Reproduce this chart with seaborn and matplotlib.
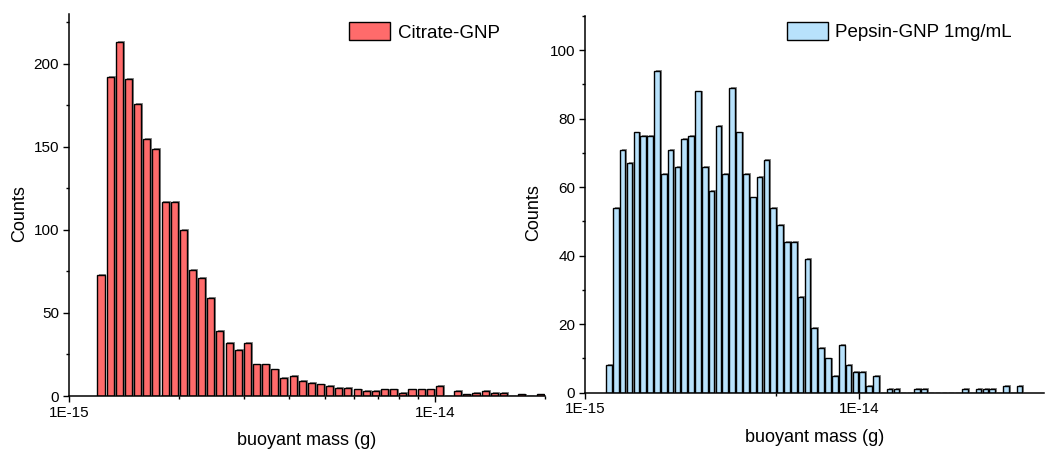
import numpy as np
import pandas as pd
import seaborn as sns
import matplotlib.pyplot as plt
from matplotlib import patheffects
from matplotlib.ticker import NullFormatter

# Histograms of buoyant mass, binned at 40 bins per decade of mass (g).
BINS_PER_DECADE = 40
LOG_MASS_START = -15          # log10 of 1E-15 g

citrate_first_bin = 3
citrate_counts = [73, 192, 213, 191, 176, 155, 149, 117, 117, 100,
                  76, 71, 59, 39, 32, 28, 32, 19, 19, 16,
                  11, 12, 9, 8, 7, 6, 5, 5, 4, 3,
                  3, 4, 4, 2, 4, 4, 4, 6, 0, 3,
                  1, 2, 3, 2, 2, 0, 1, 0, 1]

pepsin_first_bin = 3
pepsin_counts = [8, 54, 71, 67, 76, 75, 75, 94, 64, 71,
                 66, 74, 75, 88, 66, 59, 78, 64, 89, 76,
                 64, 57, 63, 68, 54, 49, 44, 44, 28, 39,
                 19, 13, 10, 5, 14, 8, 6, 6, 2, 5,
                 0, 1, 1, 0, 0, 1, 1, 0, 0, 0,
                 0, 0, 1, 0, 1, 1, 1, 0, 2, 0, 2]

citrate_label = "Citrate-GNP"
pepsin_label = "Pepsin-GNP 1mg/mL"
xlabel = "buoyant mass (g)"
ylabel = "Counts"
major_xticks = [1e-15, 1e-14]
major_xticklabels = ["1E-15", "1E-14"]

citrate_color = "#FF6B6B"
pepsin_color = "#B8E2FC"


def binned_frame(first_bin, counts):
    idx = np.arange(first_bin, first_bin + len(counts))
    log_edges = LOG_MASS_START + np.arange(first_bin, first_bin + len(counts) + 1) / BINS_PER_DECADE
    centers = 10 ** (LOG_MASS_START + (idx + 0.5) / BINS_PER_DECADE)
    return pd.DataFrame({"mass": centers, "count": counts}), log_edges.tolist()


sns.set_theme(style="ticks")
plt.rcParams["font.family"] = ["Liberation Sans", "DejaVu Sans"]
for key in ("text.color", "axes.labelcolor", "xtick.color", "ytick.color",
            "xtick.labelcolor", "ytick.labelcolor"):
    plt.rcParams[key] = "black"

fig = plt.figure(figsize=(10.45, 4.53), dpi=100)
ax1 = fig.add_axes([0.0660, 0.1258, 0.4555, 0.8433])
ax2 = fig.add_axes([0.5598, 0.1331, 0.4393, 0.8316])

shadow = [patheffects.SimplePatchShadow(offset=(1.4, 0.6), shadow_rgbFace="0.4", alpha=0.75),
          patheffects.Normal()]


def draw_panel(ax, first_bin, counts, color, label, shrink, xlim, ylim,
               ymajor, yminor, xminor, legend_anchor, label_x):
    df, edges = binned_frame(first_bin, counts)
    sns.histplot(data=df, x="mass", weights="count", bins=edges, log_scale=True,
                 shrink=shrink, color=color, alpha=1.0, edgecolor="black",
                 linewidth=1.0, label=label, ax=ax)
    for p in ax.patches:
        p.set_path_effects(shadow)
    ax.set_xticks(major_xticks, labels=major_xticklabels)
    ax.set_xticks([t for t in xminor if xlim[0] < t <= xlim[1]], minor=True)
    ax.xaxis.set_minor_formatter(NullFormatter())
    ax.set_yticks(ymajor)
    ax.set_yticks(yminor, minor=True)
    ax.set_xlim(*xlim)
    ax.set_ylim(*ylim)
    ax.set_xlabel(xlabel, fontsize=13, labelpad=9)
    ax.set_ylabel(ylabel, fontsize=13)
    ax.yaxis.set_label_coords(label_x, 0.478)
    for side in ("top", "right"):
        ax.spines[side].set_visible(False)
    for side in ("left", "bottom"):
        ax.spines[side].set_linewidth(1.1)
        ax.spines[side].set_color("black")
    ax.tick_params(axis="both", which="major", direction="out", length=4,
                   width=1.0, labelsize=11, color="black", pad=3)
    ax.tick_params(axis="both", which="minor", direction="out", length=2.5,
                   width=1.0, color="black")
    leg = ax.legend(loc="upper left", bbox_to_anchor=legend_anchor, frameon=False,
                    fontsize=13.5, handlelength=2.2, handleheight=1.1,
                    handletextpad=0.4, borderpad=0, borderaxespad=0)
    for h in leg.legend_handles:
        h.set_path_effects([])
        h.set_linewidth(1.0)


draw_panel(ax1, citrate_first_bin, citrate_counts, citrate_color, citrate_label,
           shrink=0.77, xlim=(1e-15, 2e-14), ylim=(0, 230),
           ymajor=[0, 50, 100, 150, 200], yminor=np.arange(25, 230, 50),
           xminor=[m * 10.0 ** e for e in (-15, -14) for m in range(2, 10)],
           legend_anchor=(0.588, 0.978), label_x=-0.086)

draw_panel(ax2, pepsin_first_bin, pepsin_counts, pepsin_color, pepsin_label,
           shrink=0.83, xlim=(1e-15, 4.75e-14), ylim=(0, 110),
           ymajor=[0, 20, 40, 60, 80, 100], yminor=np.arange(10, 111, 20),
           xminor=[5e-15],
           legend_anchor=(0.439, 0.985), label_x=-0.093)

fig.savefig("out.png", dpi=100)
